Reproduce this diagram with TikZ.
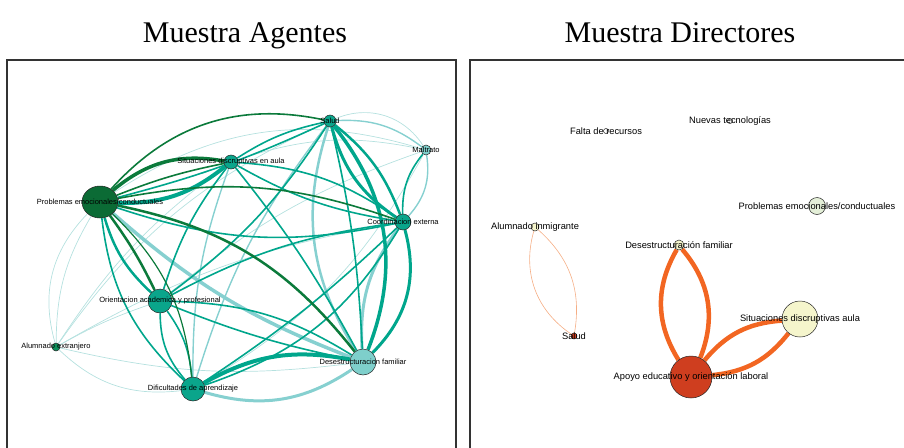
\documentclass[tikz,border=0pt]{standalone}
\usepackage{fontspec}
\setmainfont{Liberation Serif}
\setsansfont{Liberation Sans}
\usepackage{tikz}
\usetikzlibrary{shapes.geometric,backgrounds}

\definecolor{gDark}{HTML}{0B6B35}
\definecolor{gTeal}{HTML}{0AA58B}
\definecolor{gLight}{HTML}{7ECFCB}
\definecolor{gMid}{HTML}{0C8F5A}
\definecolor{eDarkc}{HTML}{0B7A3B}
\definecolor{eTealc}{HTML}{00A68C}
\definecolor{eLightc}{HTML}{86D0D0}
\definecolor{ePalec}{HTML}{B5E1DF}
\definecolor{oRed}{HTML}{CF3E1F}
\definecolor{oEdge}{HTML}{F26622}
\definecolor{oThin}{HTML}{F5AE85}
\definecolor{yPale}{HTML}{F5F5CC}
\definecolor{gPaleD}{HTML}{E4EFD8}

\begin{document}
\begin{tikzpicture}[x=1pt, y=-1pt]

\tikzstyle{netnode} = [circle, draw=black!85, line width=0.5pt, inner sep=0pt]
\tikzstyle{lblA} = [font=\fontsize{7.5}{9}\sffamily, inner sep=0pt]
\tikzstyle{lblD} = [font=\fontsize{9.3}{11}\sffamily, inner sep=0pt]
\tikzstyle{titulo} = [font=\fontsize{30}{36}\selectfont, anchor=base, inner sep=0pt]
\tikzstyle{marco} = [draw=black!80, line width=1.1pt]
\tikzstyle{eDark} = [draw=eDarkc, line width=1.6pt]
\tikzstyle{eTeal} = [draw=eTealc, line width=1.6pt]
\tikzstyle{eLight} = [draw=eLightc, line width=1.4pt]
\tikzstyle{ePale} = [draw=ePalec, line width=0.7pt]
\tikzstyle{eOr} = [draw=oEdge, line width=4.5pt]
\tikzstyle{eThin} = [draw=oThin, line width=0.6pt]

\useasboundingbox (0,0) rectangle (904,447);

\node (tA) [titulo] at (245,42) {Muestra Agentes};
\node (tD) [titulo] at (680,42) {Muestra Directores};
\draw [marco] (7,460) -- (7,60) -- (456,60) -- (456,460);
\draw [marco] (470,460) -- (470,60) -- (910,60);

% Muestra Agentes
\node (pe) [netnode, ellipse, minimum width=36, minimum height=32, fill=gDark, label={[lblA]center:Problemas emocionales/conductuales}] at (100,202) {};
\node (sd) [netnode, minimum size=14, fill=gTeal, label={[lblA]center:Situaciones discruptivas en aula}] at (231,162) {};
\node (sa) [netnode, minimum size=12, fill=gTeal, label={[lblA]center:Salud}] at (330,121) {};
\node (ma) [netnode, minimum size=10, fill=gLight, label={[lblA]center:Maltrato}] at (426,150) {};
\node (ce) [netnode, minimum size=16, fill=gTeal, label={[lblA]center:Coordinacion externa}] at (403,222) {};
\node (oa) [netnode, minimum size=24, fill=gTeal, label={[lblA]center:Orientacion academica y profesional}] at (160,301) {};
\node (ax) [netnode, minimum size=8, fill=gMid, label={[lblA]center:Alumnado extranjero}] at (56,347) {};
\node (da) [netnode, minimum size=24, fill=gTeal, label={[lblA]center:Dificultades de aprendizaje}] at (193,389) {};
\node (df) [netnode, minimum size=26, fill=gLight, label={[lblA]center:Desestructuracion familiar}] at (363,362) {};

% Muestra Directores
\node (fr) [netnode, minimum size=5, fill=white, label={[lblD]center:Falta de recursos}] at (606,131) {};
\node (nt) [netnode, minimum size=5, fill=white, label={[lblD]center:Nuevas tecnologías}] at (730,121) {};
\node (pe2) [netnode, minimum size=17, fill=gPaleD, label={[lblD]center:Problemas emocionales/conductuales}] at (817,206) {};
\node (ai) [netnode, minimum size=8, fill=yPale, label={[lblD]center:Alumnado inmigrante}] at (535,227) {};
\node (df2) [netnode, minimum size=10, fill=yPale, label={[lblD]center:Desestructuración familiar}] at (679,245) {};
\node (sd2) [netnode, minimum size=36, fill=yPale, label={[lblD]center:Situaciones discruptivas aula}] at (800,319) {};
\node (sa2) [netnode, minimum size=6, fill=oRed, label={[lblD]center:Salud}] at (574,336) {};
\node (ae) [netnode, minimum size=42, fill=oRed, label={[lblD]center:Apoyo educativo y orientación laboral}] at (691,377) {};

\begin{scope}[on background layer]
% pale
\draw [ePale] (ax) to[bend left=15] (pe);
\draw [ePale] (pe) to[bend right=30] (ax);
\draw [ePale] (ax) to[bend left=5] (oa);
\draw [ePale] (ax) to[bend left=10] (sd);
\draw [ePale] (ax) to[bend right=25] (da);
\draw [ePale] (ax) to[bend right=10] (df);
\draw [ePale] (ax) to[bend left=10] (ce);
\draw [ePale] (ax) to[bend left=15] (sa);
\draw [ePale] (pe) to[bend left=25] (ma);
\draw [ePale] (sd) to[bend left=15] (ma);
\draw [ePale] (sa) to[bend left=40] (ma);
\draw [ePale] (oa) to[bend left=10] (ma);
\draw [ePale] (da) to[bend right=15] (ma);
% light
\draw [eLight, line width=3.5] (pe) to[bend right=10] (df);
\draw [eLight, line width=3] (da) to[bend right=25] (df);
\draw [eLight, line width=2.5] (sa) to[bend right=25] (df);
\draw [eLight, line width=3] (ce) to[bend right=20] (df);
\draw [eLight] (ma) to[bend left=25] (ce);
\draw [eLight] (sd) to[bend right=10] (da);
\draw [eLight] (sa) to[bend right=10] (da);
\draw [eLight] (sa) to[bend left=20] (ma);
% teal
\draw [eTeal, line width=4] (pe) to[bend right=20] (sd);
\draw [eTeal] (pe) to[bend right=5] (sa);
\draw [eTeal] (pe) to[bend right=15] (ce);
\draw [eTeal, line width=2.5] (pe) to[bend right=15] (oa);
\draw [eTeal] (pe) to[bend right=20] (da);
\draw [eTeal] (sd) to[bend left=15] (ce);
\draw [eTeal] (sd) to[bend right=10] (ce);
\draw [eTeal] (sd) to[bend left=10] (sa);
\draw [eTeal] (sd) to[bend left=5] (df);
\draw [eTeal] (sd) to[bend right=10] (oa);
\draw [eTeal, line width=3] (sa) to[bend right=20] (ce);
\draw [eTeal, line width=2.5] (sa) to[bend left=15] (ce);
\draw [eTeal, line width=3.5] (sa) to[bend left=30] (df);
\draw [eTeal] (sa) to[bend left=10] (oa);
\draw [eTeal] (sa) to[bend left=5] (df);
\draw [eTeal, line width=3] (ce) to[bend left=30] (df);
\draw [eTeal] (ce) to[bend left=20] (ma);
\draw [eTeal] (ce) to[bend right=10] (oa);
\draw [eTeal] (da) to[bend right=5] (ce);
\draw [eTeal] (da) to[bend right=20] (ce);
\draw [eTeal, line width=4] (da) to[bend left=20] (df);
\draw [eTeal] (oa) to[bend left=15] (df);
\draw [eTeal] (oa) to[bend right=5] (df);
\draw [eTeal] (oa) to[bend right=20] (da);
\draw [eTeal] (oa) to[bend left=15] (da);
% dark
\draw [eDark] (pe) to[bend left=30] (sa);
\draw [eDark, line width=3.5] (pe) to[bend left=25] (sd);
\draw [eDark] (pe) to[bend left=5] (sd);
\draw [eDark] (pe) to[bend left=15] (ce);
\draw [eDark, line width=2.5] (pe) to[bend left=20] (df);
\draw [eDark, line width=2.5] (pe) to[bend left=5] (oa);
\draw [eDark, line width=1.2] (pe) to[bend left=20] (da);
% directores
\draw [eOr] (ae) to[bend left=31] (df2);
\draw [eOr] (ae) to[bend right=31] (df2);
\draw [eOr] (ae) to[bend left=23] (sd2);
\draw [eOr] (ae) to[bend right=23] (sd2);
\draw [eThin] (ai) to[bend right=36] (sa2);
\draw [eThin] (ai) to[bend left=29] (sa2);
\end{scope}
\end{tikzpicture}
\end{document}
